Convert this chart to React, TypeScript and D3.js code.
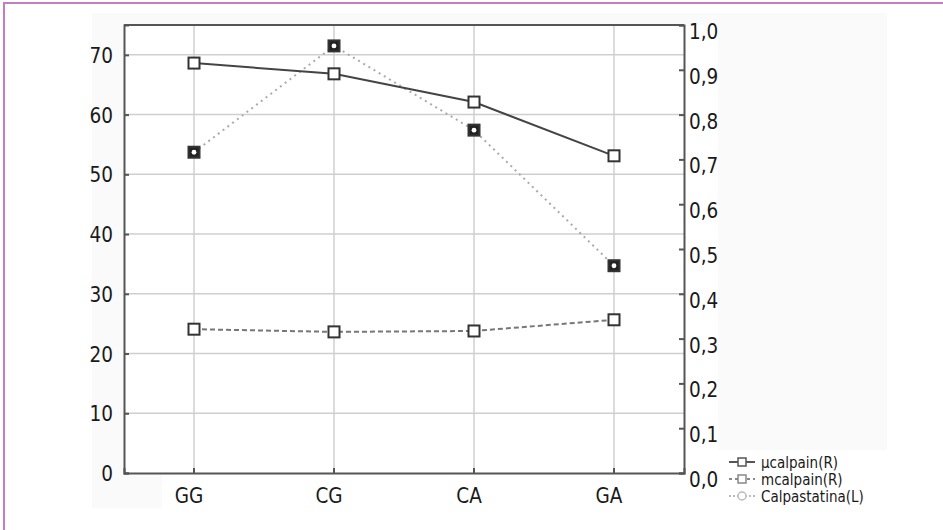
import React, { useEffect, useRef } from "react";
import * as d3 from "d3";

const categories = ["GG", "CG", "CA", "GA"];
const mucalpain = [0.915, 0.891, 0.828, 0.708]; // right axis
const mcalpain = [0.321, 0.315, 0.317, 0.342]; // right axis
const calpastatina = [53.7, 71.5, 57.4, 34.7]; // left axis
const leftTicks = [0, 10, 20, 30, 40, 50, 60, 70];
const rightTicks = [0, 0.1, 0.2, 0.3, 0.4, 0.5, 0.6, 0.7, 0.8, 0.9, 1.0];
const legendLabels = ["µcalpain(R)", "mcalpain(R)", "Calpastatina(L)"];

const App = () => {
  const svgRef = useRef(null);

  useEffect(() => {
    const svg = d3.select(svgRef.current);
    svg.selectAll("*").remove();

    const left = 124, right = 684, top = 25, bottom = 473;
    const font = "DejaVu Sans Condensed, DejaVu Sans, sans-serif";
    const tickSize = 20.5;

    const x = d3.scaleBand().domain(categories).range([left, right]);
    const yL = d3.scaleLinear().domain([0, 75]).range([bottom, top]);
    const yR = d3.scaleLinear().domain([0, 1]).range([bottom, top]);
    const cx = (d) => x(d) + x.bandwidth() / 2;

    // faint background panels (scan artifacts of the original)
    svg.append("rect").attr("x", 92).attr("y", 13).attr("width", 795).attr("height", 437).attr("fill", "#fafafa");
    svg.append("rect").attr("x", 92).attr("y", 450).attr("width", 70).attr("height", 58).attr("fill", "#fafafa");
    svg.append("rect").attr("x", left).attr("y", top).attr("width", right - left).attr("height", bottom - top).attr("fill", "#fff");
    svg.append("rect").attr("x", right).attr("y", top).attr("width", 34).attr("height", 470 - top).attr("fill", "#fff");

    // purple frame
    svg.append("path").attr("d", "M4,530V3H943").attr("fill", "none").attr("stroke", "#c07ec4").attr("stroke-width", 2);

    // grid
    const grid = svg.append("g").attr("stroke", "#cfcfcf").attr("stroke-width", 1.5);
    leftTicks.filter((t) => t > 0).forEach((t) => {
      grid.append("line").attr("x1", left).attr("x2", right).attr("y1", yL(t)).attr("y2", yL(t));
    });
    categories.forEach((c) => {
      grid.append("line").attr("x1", cx(c)).attr("x2", cx(c)).attr("y1", top).attr("y2", bottom);
    });

    // axes
    const leftAxis = svg.append("g").attr("transform", `translate(${left},0)`)
      .call(d3.axisRight(yL).tickValues(leftTicks).tickSize(5).tickFormat(() => ""));
    const rightAxis = svg.append("g").attr("transform", `translate(${right},0)`)
      .call(d3.axisLeft(yR).tickValues(rightTicks).tickSize(5).tickFormat(() => ""));
    const bottomAxis = svg.append("g").attr("transform", `translate(0,${bottom})`)
      .call(d3.axisTop(x).tickSize(5).tickFormat(() => ""));
    [leftAxis, rightAxis, bottomAxis].forEach((g) => {
      g.selectAll("path,line").attr("stroke", "#555").attr("stroke-width", 2);
    });
    svg.append("path")
      .attr("d", `M${left},${top}H${right}`)
      .attr("stroke", "#555").attr("stroke-width", 2).attr("fill", "none");

    // tick labels
    svg.append("g").selectAll("text").data(leftTicks).join("text")
      .attr("x", left - 11).attr("y", (d) => yL(d) + 2)
      .attr("text-anchor", "end").attr("dominant-baseline", "middle")
      .attr("font-family", font).attr("font-size", tickSize).attr("fill", "#1a1a1a")
      .text((d) => d);
    svg.append("g").selectAll("text").data(rightTicks).join("text")
      .attr("x", right + 5).attr("y", (d) => yR(d) + 8)
      .attr("dominant-baseline", "middle")
      .attr("font-family", font).attr("font-size", tickSize).attr("fill", "#1a1a1a")
      .text((d) => d3.format(".1f")(d).replace(".", ","));
    svg.append("g").selectAll("text").data(categories).join("text")
      .attr("x", (d) => cx(d) - 5).attr("y", bottom + 24)
      .attr("text-anchor", "middle").attr("dominant-baseline", "middle")
      .attr("font-family", font).attr("font-size", tickSize).attr("fill", "#1a1a1a")
      .text((d) => d);

    // lines
    const series = [
      { values: calpastatina, y: yL, stroke: "#aaa", dash: "2,4", filled: true },
      { values: mcalpain, y: yR, stroke: "#777", dash: "5,3", filled: false },
      { values: mucalpain, y: yR, stroke: "#444", dash: null, filled: false },
    ];
    series.forEach((s) => {
      const line = d3.line().x((d, i) => cx(categories[i])).y((d) => s.y(d));
      svg.append("path").datum(s.values).attr("d", line)
        .attr("fill", "none").attr("stroke", s.stroke).attr("stroke-width", 2)
        .attr("stroke-dasharray", s.dash);
    });
    series.forEach((s) => {
      const g = svg.append("g");
      s.values.forEach((v, i) => {
        const px = cx(categories[i]), py = s.y(v);
        g.append("rect").attr("x", px - 5.5).attr("y", py - 5.5).attr("width", 11).attr("height", 11)
          .attr("fill", s.filled ? "#222" : "#fff").attr("stroke", "#333").attr("stroke-width", 2);
        if (s.filled) g.append("circle").attr("cx", px).attr("cy", py).attr("r", 2.4).attr("fill", "#fff");
      });
    });

    // legend
    const legend = svg.append("g");
    const rows = [
      { stroke: "#555", dash: null, shape: "square" },
      { stroke: "#888", dash: "3,3", shape: "square" },
      { stroke: "#bbb", dash: "2,2", shape: "circle" },
    ];
    rows.forEach((r, i) => {
      const ly = 462 + i * 17;
      legend.append("line").attr("x1", 729).attr("x2", 755).attr("y1", ly).attr("y2", ly)
        .attr("stroke", r.stroke).attr("stroke-width", 2).attr("stroke-dasharray", r.dash);
      if (r.shape === "square") {
        legend.append("rect").attr("x", 738).attr("y", ly - 4).attr("width", 8).attr("height", 8)
          .attr("fill", "#fff").attr("stroke", r.stroke).attr("stroke-width", 1.5);
      } else {
        legend.append("circle").attr("cx", 742).attr("cy", ly).attr("r", 4)
          .attr("fill", "#fff").attr("stroke", r.stroke).attr("stroke-width", 1.5);
      }
      legend.append("text").attr("x", 761).attr("y", ly + 1)
        .attr("dominant-baseline", "middle")
        .attr("font-family", font).attr("font-size", 15).attr("fill", "#1a1a1a")
        .text(legendLabels[i]);
    });
  }, []);

  return (
    <div>
      <style>{"body{margin:0}"}</style>
      <svg ref={svgRef} width={943} height={530} style={{ display: "block", background: "#fff" }} />
    </div>
  );
};

export default App;
